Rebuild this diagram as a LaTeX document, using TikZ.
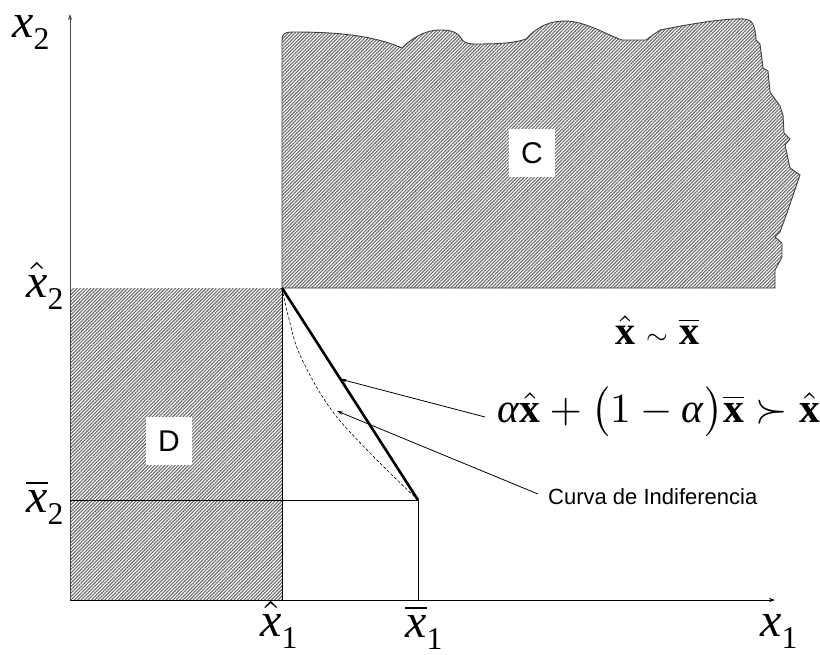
\documentclass[tikz,border=0pt]{standalone}
\usepackage{graphicx}
\usepackage{fontspec}
\setmainfont{Liberation Serif}
\newfontfamily\sansf{Liberation Sans}
\usetikzlibrary{patterns.meta,arrows.meta,calc}
\newcommand{\mylab}[2]{\scalebox{4.8}{#1\raisebox{-2.6pt}{\fontsize{6.6}{7}\selectfont #2}}}
\begin{document}
\begin{tikzpicture}[x=1pt,y=-1pt,
  hatch/.style={pattern={Lines[angle=45,distance=2.4pt,line width=1.1pt]},pattern color=black!58},
  axisline/.style={line width=0.8pt,draw=black!70,-{Stealth[length=6pt,width=4pt]}},
  guide/.style={line width=0.8pt,draw=black},
  pointer/.style={line width=0.8pt,draw=black,-{Stealth[length=6pt,width=3.5pt]}},
  axlabel/.style={inner sep=0pt,anchor=base west},
  regionlabel/.style={fill=white,minimum width=46pt,minimum height=48pt,inner sep=0pt,font=\sansf\fontsize{30}{30}\selectfont},
]
\useasboundingbox (0,0) rectangle (820,654);
\fill[white] (0,0) rectangle (820,654);
% coordinates
\coordinate (O) at (70,600);
\coordinate (Ytip) at (70,14);
\coordinate (Xtip) at (775,600);
\coordinate (A) at (282,288);
\coordinate (B) at (418,500);
\coordinate (Dtl) at (70,288);
\coordinate (Dbr) at (282,600);
\coordinate (Lx) at (70,500);
\coordinate (Lb) at (418,600);
% region D
\fill[hatch] (Dtl) rectangle (Dbr);
\draw[guide] (A) -- (Dbr);
% region C
\filldraw[hatch,draw=black!75,line width=0.9pt]
  (A) -- (282,40) .. controls (282,34) and (285,32) .. (292,32)
  .. controls (330,32) and (370,34) .. (402,48)
  .. controls (412,38) and (425,30) .. (440,30)
  .. controls (455,30) and (458,34) .. (461,38)
  .. controls (463,42) and (466,44) .. (475,44)
  .. controls (500,44) and (515,43) .. (526,39)
  .. controls (538,26) and (550,21) .. (565,21)
  .. controls (585,21) and (605,34) .. (622,40)
  -- (646,40) -- (660,30)
  .. controls (690,24) and (725,18) .. (745,19)
  .. controls (752,20) and (755,24) .. (756,40)
  -- (760,44) -- (763,68) -- (768,71) -- (770,92) -- (780,106) -- (783,115)
  -- (784,133) -- (790,139) -- (785,145) -- (790,168) -- (800,175)
  -- (788,210) -- (780,232) -- (775,237) -- (782,243) -- (782,257)
  -- (775,270) -- (775,288) -- cycle;
% axes
\draw[axisline] (O) -- (Ytip);
\draw[axisline,draw=black] (O) -- (Xtip);
% guide lines for xbar
\draw[guide] (Lx) -- (B) -- (Lb);
% thick chord and indifference curve
\draw[line width=2.6pt] (A) -- (B);
\draw[line width=0.6pt,dash pattern=on 3pt off 2pt] plot[smooth,tension=0.6] coordinates {(A) (288,315) (300,355) (330,408) (370,453) (B)};
% region labels
\node[regionlabel] (C) at (532,153) {C};
\node[regionlabel] (D) at (169,441) {D};
% axis labels
\node[axlabel] (x2) at (12,37) {\mylab{\textit{x}}{2}};
\node[axlabel] (x2hat) at (26,297) {\mylab{$\hat{\textit{x}}$}{2}};
\node[axlabel] (x2bar) at (26,512) {\mylab{$\overline{\textit{x}}$}{2}};
\node[axlabel] (x1hat) at (260,636) {\mylab{$\hat{\textit{x}}$}{1}};
\node[axlabel] (x1bar) at (405,637) {\mylab{$\overline{\textit{x}}$}{1}};
\node[axlabel] (x1) at (760,636) {\mylab{\textit{x}}{1}};
% formulas
\node[inner sep=0pt] (sim) at (657,330) {\scalebox{4}{$\hat{\textbf{x}}\mathrel{\scalebox{0.7}{$\sim$}}\overline{\textbf{x}}$}};
\node[inner sep=0pt,anchor=west] (F) at (497,412) {\scalebox{4.15}{\textit{α}$\hat{\textbf{x}}+\bigl(1-\mbox{\textit{α}}\bigr)\overline{\textbf{x}}\succ\hat{\textbf{x}}$}};
\node[inner sep=0pt,font=\sansf\fontsize{22}{22}\selectfont,anchor=west] (CI) at (548,497) {Curva de Indiferencia};
% pointers
\coordinate (p1) at ($(A)!0.43!(B)$);
\coordinate (p2) at (337,411);
\draw[pointer] (485,417) -- (p1);
\draw[pointer] (538,494) -- (p2);
\end{tikzpicture}
\end{document}
